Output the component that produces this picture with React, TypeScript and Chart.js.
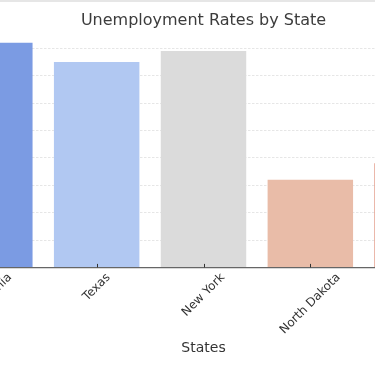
import { useEffect, useRef } from 'react';
import { Chart, registerables } from 'chart.js';

Chart.register(...registerables);

const chartTitle = 'Unemployment Rates by State';
const xAxisTitle = 'States';
const categories = ['California', 'Texas', 'New York', 'North Dakota', 'Florida'];
const rates = [8.2, 7.5, 7.9, 3.2, 3.8];
const barColors = ['#7b9be3', '#b1c8f2', '#dbdbdb', '#e9bca8', '#dc8068'];
const yMax = 8.6;
const yStep = 1;

const textColor = '#333333';
const fontFamily = '"DejaVu Sans", sans-serif';

const labelPlugin = {
  id: 'rotatedLabels',
  afterDraw(chart: any) {
    const ctx = chart.ctx as CanvasRenderingContext2D;
    const xs = chart.scales.x;
    const area = chart.chartArea;
    const cx = (area.left + area.right) / 2;
    ctx.save();
    // tick marks (pointing inward)
    ctx.strokeStyle = '#333';
    ctx.lineWidth = 1;
    xs.ticks.forEach((_t: any, i: number) => {
      const px = Math.round(xs.getPixelForTick(i)) + 0.5;
      ctx.beginPath();
      ctx.moveTo(px, area.bottom);
      ctx.lineTo(px, area.bottom - 3.5);
      ctx.stroke();
    });
    // rotated, centered tick labels
    const fs = 12;
    ctx.fillStyle = textColor;
    ctx.font = `${fs}px ${fontFamily}`;
    ctx.textAlign = 'center';
    ctx.textBaseline = 'middle';
    xs.ticks.forEach((_t: any, i: number) => {
      const label = categories[i];
      const px = xs.getPixelForTick(i);
      const w = ctx.measureText(label).width;
      const bh = (w + fs * 0.75) * Math.SQRT1_2;
      ctx.save();
      ctx.translate(px, area.bottom + 5 + bh / 2);
      ctx.rotate(-Math.PI / 4);
      ctx.fillText(label, 0, 0);
      ctx.restore();
    });
    // title
    ctx.textBaseline = 'alphabetic';
    ctx.fillStyle = '#3c3c3c';
    ctx.font = `16px ${fontFamily}`;
    ctx.fillText(chartTitle, cx, 25);
    // x axis title
    ctx.fillStyle = textColor;
    ctx.font = `14px ${fontFamily}`;
    ctx.fillText(xAxisTitle, cx, 352);
    ctx.restore();
  },
};

export default function App() {
  const ref = useRef<HTMLCanvasElement>(null);
  useEffect(() => {
    const chart = new Chart(ref.current as HTMLCanvasElement, {
      type: 'bar',
      data: {
        labels: categories,
        datasets: [
          {
            data: rates,
            backgroundColor: barColors,
            borderWidth: 0,
            categoryPercentage: 0.8,
            barPercentage: 1,
          },
        ],
      },
      options: {
        responsive: false,
        animation: false,
        devicePixelRatio: 1,
        layout: { padding: { left: 16.4, right: 16.4, top: 31.8, bottom: 0 } },
        plugins: {
          legend: { display: false },
          title: { display: false },
          tooltip: { enabled: false },
        },
        scales: {
          x: {
            type: 'category',
            offset: true,
            grid: { display: false },
            ticks: { display: false },
            border: { display: true, color: '#666', width: 1.2, z: 1 },
            afterFit: (s: any) => {
              s.height = 98.6;
            },
          },
          y: {
            min: 0,
            max: yMax,
            ticks: { display: false, stepSize: yStep, includeBounds: false },
            grid: {
              color: (c: any) => (c.tick && c.tick.value === 0 ? 'rgba(0,0,0,0)' : '#e0e0e0'),
              lineWidth: 0.8,
              drawTicks: false,
            },
            border: { display: false, dash: [2.5, 1.5] },
            afterFit: (s: any) => {
              s.width = 0;
            },
          },
        },
      } as any,
      plugins: [labelPlugin],
    });
    return () => chart.destroy();
  }, []);

  return (
    <div
      style={{
        position: 'fixed',
        left: 0,
        top: 0,
        width: 375,
        height: 366,
        overflow: 'hidden',
        background: '#fff',
      }}
    >
      <canvas
        ref={ref}
        width={567}
        height={366}
        style={{ position: 'absolute', left: -80, top: 0, width: 567, height: 366 }}
      />
      <div
        style={{ position: 'absolute', left: 0, top: 0, width: '100%', height: 2, background: '#e6e6e6' }}
      />
    </div>
  );
}
